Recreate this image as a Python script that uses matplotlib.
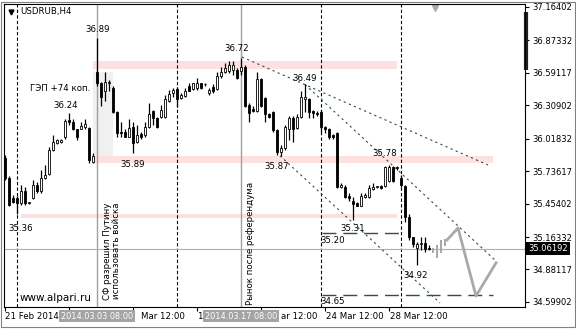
import matplotlib.pyplot as plt
import matplotlib.patches as mpatches
import numpy as np

# USDRUB H4 candles (open, high, low, close)
opens = [35.85, 35.68, 35.50, 35.50, 35.46, 35.56, 35.46, 35.50, 35.62, 35.56,
         35.68, 35.71, 35.92, 35.98, 35.99, 36.03, 36.18, 36.16, 36.10, 36.10,
         36.12, 36.11, 35.82, 36.60, 36.50, 36.43, 36.50, 36.46, 36.25, 36.08,
         36.08, 36.03, 36.12, 35.99, 36.06, 36.05, 36.12, 36.26, 36.20, 36.21,
         36.21, 36.35, 36.42, 36.45, 36.37, 36.39, 36.48, 36.45, 36.46, 36.50,
         36.49, 36.42, 36.47, 36.45, 36.56, 36.60, 36.61, 36.62, 36.62, 36.61,
         36.64, 36.31, 36.28, 36.26, 36.54, 36.37, 36.23, 36.25, 36.09, 35.90,
         35.94, 36.10, 36.20, 36.11, 36.21, 36.36, 36.36, 36.26, 36.24, 36.25,
         36.12, 36.10, 36.05, 36.07, 35.60, 35.60, 35.52, 35.48, 35.46, 35.43,
         35.51, 35.51, 35.58, 35.60, 35.61, 35.61, 35.65, 35.77, 35.76, 35.68,
         35.61, 35.34, 35.16, 35.07, 35.10, 35.11, 35.07]
highs = [35.88, 35.69, 35.53, 35.52, 35.62, 35.60, 35.47, 35.66, 35.64, 35.75,
         35.79, 35.95, 36.05, 36.02, 36.02, 36.19, 36.24, 36.19, 36.10, 36.16,
         36.19, 36.12, 35.89, 36.89, 36.51, 36.60, 36.53, 36.48, 36.26, 36.16,
         36.10, 36.19, 36.16, 36.14, 36.08, 36.16, 36.33, 36.27, 36.21, 36.31,
         36.40, 36.44, 36.46, 36.47, 36.42, 36.46, 36.50, 36.50, 36.55, 36.50,
         36.50, 36.46, 36.49, 36.60, 36.64, 36.68, 36.69, 36.69, 36.63, 36.72,
         36.66, 36.33, 36.30, 36.60, 36.55, 36.38, 36.24, 36.26, 36.10, 35.96,
         36.14, 36.22, 36.22, 36.23, 36.43, 36.49, 36.37, 36.27, 36.26, 36.27,
         36.13, 36.11, 36.06, 36.08, 35.63, 35.62, 35.55, 35.51, 35.47, 35.55,
         35.55, 35.62, 35.63, 35.61, 35.62, 35.78, 35.79, 35.78, 35.78, 35.70,
         35.62, 35.36, 35.16, 35.12, 35.16, 35.16, 35.09]
lows = [35.66, 35.43, 35.46, 35.36, 35.44, 35.44, 35.45, 35.49, 35.55, 35.55,
        35.67, 35.70, 35.91, 35.97, 35.98, 36.02, 36.14, 36.09, 36.01, 36.10,
        36.10, 35.81, 35.81, 36.48, 36.30, 36.35, 36.43, 36.24, 36.03, 36.03,
        36.03, 36.03, 35.89, 35.98, 36.02, 36.03, 36.11, 36.14, 36.11, 36.20,
        36.20, 36.34, 36.38, 36.29, 36.36, 36.38, 36.43, 36.44, 36.44, 36.45,
        36.48, 36.40, 36.42, 36.44, 36.55, 36.59, 36.59, 36.57, 36.54, 36.57,
        36.29, 36.16, 36.25, 36.25, 36.29, 36.16, 36.20, 36.08, 35.88, 35.87,
        35.92, 36.01, 35.99, 36.10, 36.20, 36.25, 36.20, 36.20, 36.22, 36.08,
        36.07, 36.02, 36.02, 35.59, 35.59, 35.50, 35.48, 35.31, 35.43, 35.43,
        35.50, 35.50, 35.57, 35.59, 35.58, 35.60, 35.64, 35.64, 35.75, 35.60,
        35.29, 35.14, 35.08, 34.92, 35.05, 35.03, 35.05]
closes = [35.68, 35.44, 35.47, 35.46, 35.56, 35.46, 35.46, 35.62, 35.56, 35.68,
          35.70, 35.92, 35.99, 36.01, 36.01, 36.17, 36.16, 36.10, 36.03, 36.13,
          36.15, 35.83, 35.87, 36.50, 36.38, 36.51, 36.51, 36.25, 36.07, 36.07,
          36.03, 36.11, 35.98, 36.05, 36.03, 36.12, 36.23, 36.20, 36.12, 36.27,
          36.36, 36.41, 36.44, 36.36, 36.40, 36.43, 36.43, 36.50, 36.50, 36.46,
          36.49, 36.44, 36.43, 36.56, 36.60, 36.63, 36.66, 36.66, 36.55, 36.64,
          36.30, 36.24, 36.26, 36.54, 36.30, 36.23, 36.21, 36.09, 35.90, 35.94,
          36.12, 36.20, 36.10, 36.21, 36.38, 36.38, 36.25, 36.24, 36.23, 36.12,
          36.10, 36.03, 36.03, 35.60, 35.62, 35.51, 35.50, 35.45, 35.43, 35.52,
          35.53, 35.59, 35.60, 35.60, 35.59, 35.77, 35.77, 35.65, 35.77, 35.62,
          35.34, 35.16, 35.10, 35.10, 35.11, 35.06, 35.06192]

# projected gray bars and zigzag forecast
proj_idx = [107, 108, 109, 110]
proj_lo = [35.025, 34.982, 35.025, 35.086]
proj_hi = [35.068, 35.095, 35.138, 35.147]
fc_x = [110.5, 113.25, 117.75, 122.75]
fc_y = [35.138, 35.242, 34.651, 34.938]

# price scale and time scale labels
price_ticks = [37.16402, 36.87332, 36.59117, 36.30902, 36.01832,
               35.73617, 35.45402, 35.16332, 34.88117, 34.59902]
last_price = 35.06192
date_ticks = [0, 16, 32, 48, 64, 80, 96]
# visible parts of the time labels (the rest is covered by the cursor boxes)
date_pos = [0.1, 33.9, 48.0, 69.1, 80.3, 96.3]
date_lbl = ['21 Feb 2014', 'Mar 12:00', '1', 'ar 12:00', '24 Mar 12:00', '28 Mar 12:00']
mark_pos = [23, 59]
mark_lbl = ['2014.03.03 08:00', '2014.03.17 08:00']
sep_pos = [3, 43, 79, 99]

# zones: (x0, x1, lo, hi)
zones = [(22, 98, 36.625, 36.695), (22, 122, 35.808, 35.868), (4, 98, 35.329, 35.364)]
gap_box = (22, 27, 35.868, 36.599)

# trend lines
trends = [((59.25, 36.729), (120.75, 35.79)),
          ((75, 36.49), (123, 34.947)),
          ((68.75, 35.87), (108.75, 34.59))]
levels = [(79.25, 99.25, 35.20), (79.25, 122, 34.66)]

# price labels (x, y, text)
notes = [(23.25, 36.964, '36.89'), (15.25, 36.303, '36.24'), (32, 35.79, '35.89'),
         (4, 35.242, '35.36'), (58, 36.799, '36.72'), (75, 36.538, '36.49'),
         (68, 35.773, '35.87'), (95, 35.886, '35.78'), (87, 35.234, '35.31'),
         (82, 35.129, '35.20'), (102.75, 34.825, '34.92'), (82, 34.599, '34.65')]

plt.rcParams['font.family'] = ['DejaVu Sans']
fs = 6.2

fig = plt.figure(figsize=(5.76, 3.29), dpi=100)
ax = fig.add_axes([4/576, 22/329, 521/576, 303/329])
ax.set_xlim(-0.25, 130)
ax.set_ylim(34.555, 37.19)

for z in zones:
    ax.add_patch(mpatches.Rectangle((z[0], z[2]), z[1]-z[0], z[3]-z[2],
                                    color='#ffe0e0', lw=0, zorder=0))
ax.add_patch(mpatches.Rectangle((gap_box[0], gap_box[2]), gap_box[1]-gap_box[0],
                                gap_box[3]-gap_box[2], color='#f0f0f0', lw=0, zorder=0))

for p in sep_pos:
    ax.axvline(p, color='black', ls=(0, (3, 2)), lw=0.8, zorder=1)
for p in mark_pos:
    ax.axvline(p, color='#a0a0a0', lw=1, zorder=1)
ax.axhline(last_price, color='#b0b0b0', lw=0.8, zorder=1)

x = np.arange(len(opens))
ax.vlines(x, lows, highs, color='black', lw=0.9, zorder=3)
for i in x:
    o, c = opens[i], closes[i]
    face = 'white' if c >= o else 'black'
    ax.add_patch(mpatches.Rectangle((i-0.35, min(o, c)), 0.7, max(abs(c-o), 0.004),
                                    facecolor=face, edgecolor='black', lw=0.6, zorder=4))

for i, lo, hi in zip(proj_idx, proj_lo, proj_hi):
    ax.add_patch(mpatches.Rectangle((i-0.35, lo), 0.7, hi-lo, color='#a9a9a9', lw=0, zorder=4))
ax.plot(fc_x, fc_y, color='#a9a9a9', lw=2, zorder=4)

for (x0, y0), (x1, y1) in trends:
    ax.plot([x0, x1], [y0, y1], color='#2f4f4f', ls=(0, (2, 3)), lw=0.8, zorder=2)
for x0, x1, y in levels:
    ax.plot([x0, x1], [y, y], color='#2f4f4f', ls=(0, (10, 5)), lw=1, zorder=2)

for tx, ty, t in notes:
    ax.text(tx, ty, t, fontsize=fs, ha='center', va='center', zorder=6)
ax.text(13.9, 36.451, 'ГЭП +74 коп.', fontsize=fs, ha='center', va='center', zorder=6)
ax.text(3.75, 34.634, 'www.alpari.ru', fontsize=7.5, ha='left', va='center', zorder=6)
ax.text(26.75, 35.042, 'СФ разрешил Путину\nиспользовать войска', fontsize=fs,
        rotation=90, ha='center', va='center', multialignment='center',
        linespacing=1.1, zorder=6)
ax.text(61.3, 35.112, 'Рынок после референдума', fontsize=fs, rotation=90,
        ha='center', va='center', zorder=6)

ax.text(0.031, 0.974, 'USDRUB,H4', transform=ax.transAxes, fontsize=fs,
        ha='left', va='center')
ax.plot([0.013], [0.975], marker='v', color='black', ms=3.5, transform=ax.transAxes)
ax.plot([0.827], [0.988], marker='v', color='#a9a9a9', ms=5,
        transform=ax.transAxes, clip_on=False)
ax.plot([1.0015, 1.0015], [0.782, 0.974], color='#202020', lw=3,
        transform=ax.transAxes, clip_on=False, solid_capstyle='butt')

# axes
for s in ax.spines.values():
    s.set_color('black')
    s.set_linewidth(0.8)
ax.yaxis.tick_right()
ax.set_yticks(price_ticks)
ax.set_yticklabels(['%.5f' % v for v in price_ticks], fontsize=6)
ax.tick_params(axis='y', direction='out', length=3, pad=2, width=0.8)
ax.set_xticks(date_ticks)
ax.set_xticklabels([])
ax.tick_params(axis='x', direction='out', length=3, width=0.8)

tr = ax.get_xaxis_transform()
for p, t in zip(date_pos, date_lbl):
    ax.text(p, -0.03, t, transform=tr, fontsize=fs, ha='left', va='center',
            clip_on=False)
for p, t in zip(mark_pos, mark_lbl):
    ax.text(p, -0.03, t, transform=tr, fontsize=5.9, ha='center', va='center',
            color='white', clip_on=False, zorder=10,
            bbox=dict(boxstyle='square,pad=0.2', fc='#a4a4a4', ec='none'))
ax.text(1.006, last_price, '%.5f' % last_price, transform=ax.get_yaxis_transform(),
        fontsize=6, color='white', ha='left', va='center', clip_on=False, zorder=10,
        bbox=dict(boxstyle='square,pad=0.25', fc='black', ec='none'))

fig.add_artist(mpatches.Rectangle((1/576, 2/329), 574/576, 325/329, fill=False,
                                  ec='#808080', lw=0.8, transform=fig.transFigure))

fig.savefig('out.png', dpi=100)
